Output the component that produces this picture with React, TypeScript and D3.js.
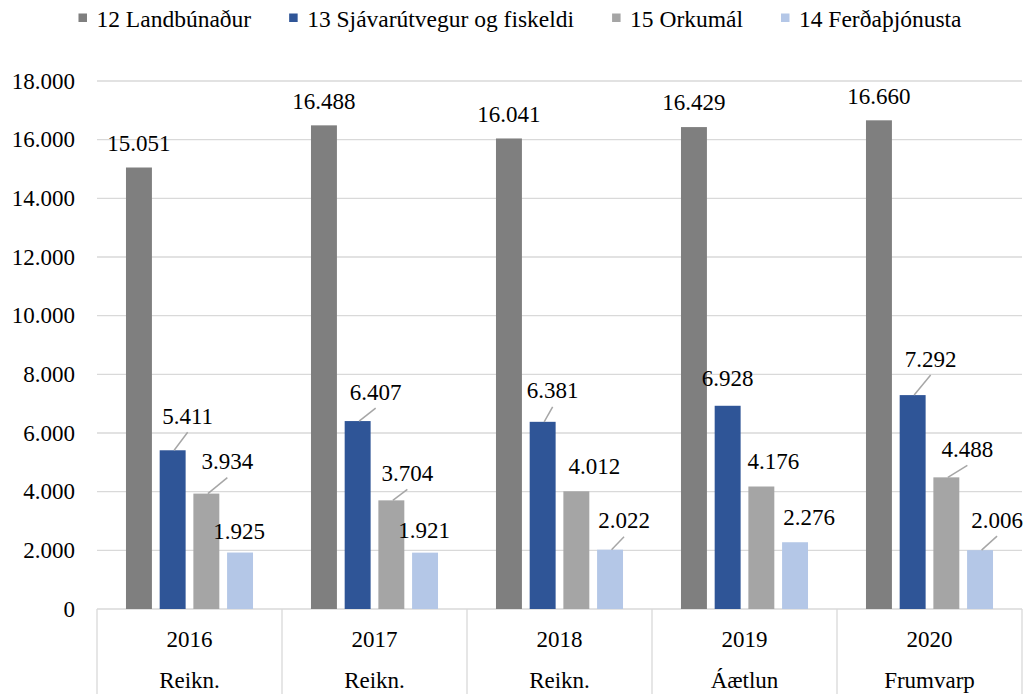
import React from 'react';
import * as d3 from 'd3';

const years = ['2016', '2017', '2018', '2019', '2020'];
const stages = ['Reikn.', 'Reikn.', 'Reikn.', 'Áætlun', 'Frumvarp'];
const seriesNames = ['12 Landbúnaður', '13 Sjávarútvegur og fiskeldi', '15 Orkumál', '14 Ferðaþjónusta'];
const seriesColors = ['#7f7f7f', '#2f5597', '#a5a5a5', '#b4c7e7'];

const landbunadur = [15051, 16488, 16041, 16429, 16660];
const sjavarutvegur = [5411, 6407, 6381, 6928, 7292];
const orkumal = [3934, 3704, 4012, 4176, 4488];
const ferdathjonusta = [1925, 1921, 2022, 2276, 2006];

const yTicks = [0, 2000, 4000, 6000, 8000, 10000, 12000, 14000, 16000, 18000];

// label nudges per year, per series: [dx, dy from bar top, leader line]
const labelNudge: [number, number, boolean][][] = [
  [[0, -24, false], [15, -34, true], [21, -32, true], [-1, -21, false]],
  [[0, -24, false], [18, -29, true], [16, -27, true], [-1, -22, false]],
  [[0, -24, false], [10, -31, true], [18, -25, false], [14, -29, true]],
  [[0, -25, false], [0, -27, false], [12, -25, false], [14, -25, false]],
  [[0, -24, false], [18, -36, true], [21, -28, true], [17, -30, true]],
];

const FONT = "'Liberation Serif', 'Times New Roman', serif";
const FS = 23;
const LEGEND_FS = 23.5;

const W = 1030;
const H = 694;
const left = 97;
const right = 1022;
const top = 81;
const bottom = 609;

const fmt = d3
  .formatLocale({ decimal: ',', thousands: '.', grouping: [3], currency: ['', ' kr.'] })
  .format(',d');

function measure(text: string) {
  const ctx = document.createElement('canvas').getContext('2d');
  if (!ctx) return text.length * LEGEND_FS * 0.45;
  ctx.font = `${LEGEND_FS}px ${FONT}`;
  return ctx.measureText(text).width;
}

const App = () => {
  const values = [landbunadur, sjavarutvegur, orkumal, ferdathjonusta];
  const y = d3.scaleLinear().domain([0, 18000]).range([bottom, top]);
  const x0 = d3.scaleBand().domain(years).range([left, right]).padding(0);
  const x1 = d3
    .scaleBand()
    .domain(seriesNames)
    .range([0, x0.bandwidth()])
    .paddingInner(0.23)
    .paddingOuter(0.86);

  const seps = [...years.map((d) => x0(d) as number), right];

  // legend layout
  const widths = seriesNames.map(measure);
  const gap = 38;
  const total = widths.reduce((a, w) => a + 18 + w, 0) + gap * (seriesNames.length - 1);
  let cursor = 520 - total / 2;
  const legendX = widths.map((w) => {
    const x = cursor;
    cursor += 18 + w + gap;
    return x;
  });

  const textProps = { fontFamily: FONT, fontSize: FS, fill: '#000' };

  return (
    <svg
      width={W}
      height={H}
      style={{ position: 'absolute', left: 0, top: 0, background: '#fff' }}
    >
      {yTicks.map((d) => (
        <line key={`g${d}`} x1={left} x2={right} y1={y(d)} y2={y(d)} stroke="#d9d9d9" strokeWidth={1.3} />
      ))}
      {yTicks.map((d) => (
        <text key={`t${d}`} {...textProps} x={75} y={y(d) + 7.5} textAnchor="end">
          {fmt(d)}
        </text>
      ))}
      {seps.map((d) => (
        <line key={`s${d}`} x1={d} x2={d} y1={bottom} y2={H} stroke="#d9d9d9" strokeWidth={1.3} />
      ))}
      {years.map((yr, i) => {
        const cx = (x0(yr) as number) + x0.bandwidth() / 2;
        return (
          <g key={`c${yr}`}>
            <text {...textProps} x={cx} y={647} textAnchor="middle">
              {yr}
            </text>
            <text {...textProps} x={cx} y={688} textAnchor="middle">
              {stages[i]}
            </text>
          </g>
        );
      })}
      {seriesNames.map((s, si) =>
        values[si].map((v, i) => (
          <rect
            key={`b${si}-${i}`}
            x={(x0(years[i]) as number) + (x1(s) as number)}
            y={y(v)}
            width={x1.bandwidth()}
            height={bottom - y(v)}
            fill={seriesColors[si]}
          />
        ))
      )}
      {seriesNames.map((s, si) =>
        values[si].map((v, i) => {
          const cx = (x0(years[i]) as number) + (x1(s) as number) + x1.bandwidth() / 2;
          const ty = y(v);
          const [dx, dy, leader] = labelNudge[i][si];
          const lx = cx + dx;
          const ly = ty + dy;
          return (
            <g key={`l${si}-${i}`}>
              {leader && (
                <line x1={cx + 1.5} y1={ty} x2={lx} y2={ly + 16} stroke="#a6a6a6" strokeWidth={1.5} />
              )}
              <text {...textProps} x={lx} y={ly + 7.5} textAnchor="middle">
                {fmt(v)}
              </text>
            </g>
          );
        })
      )}
      {seriesNames.map((s, si) => (
        <g key={`lg${si}`} transform={`translate(${legendX[si]},0)`}>
          <rect x={0} y={13.5} width={8.5} height={8.5} fill={seriesColors[si]} />
          <text fontFamily={FONT} fontSize={LEGEND_FS} fill="#000" x={18} y={26.5}>
            {s}
          </text>
        </g>
      ))}
    </svg>
  );
};

export default App;
